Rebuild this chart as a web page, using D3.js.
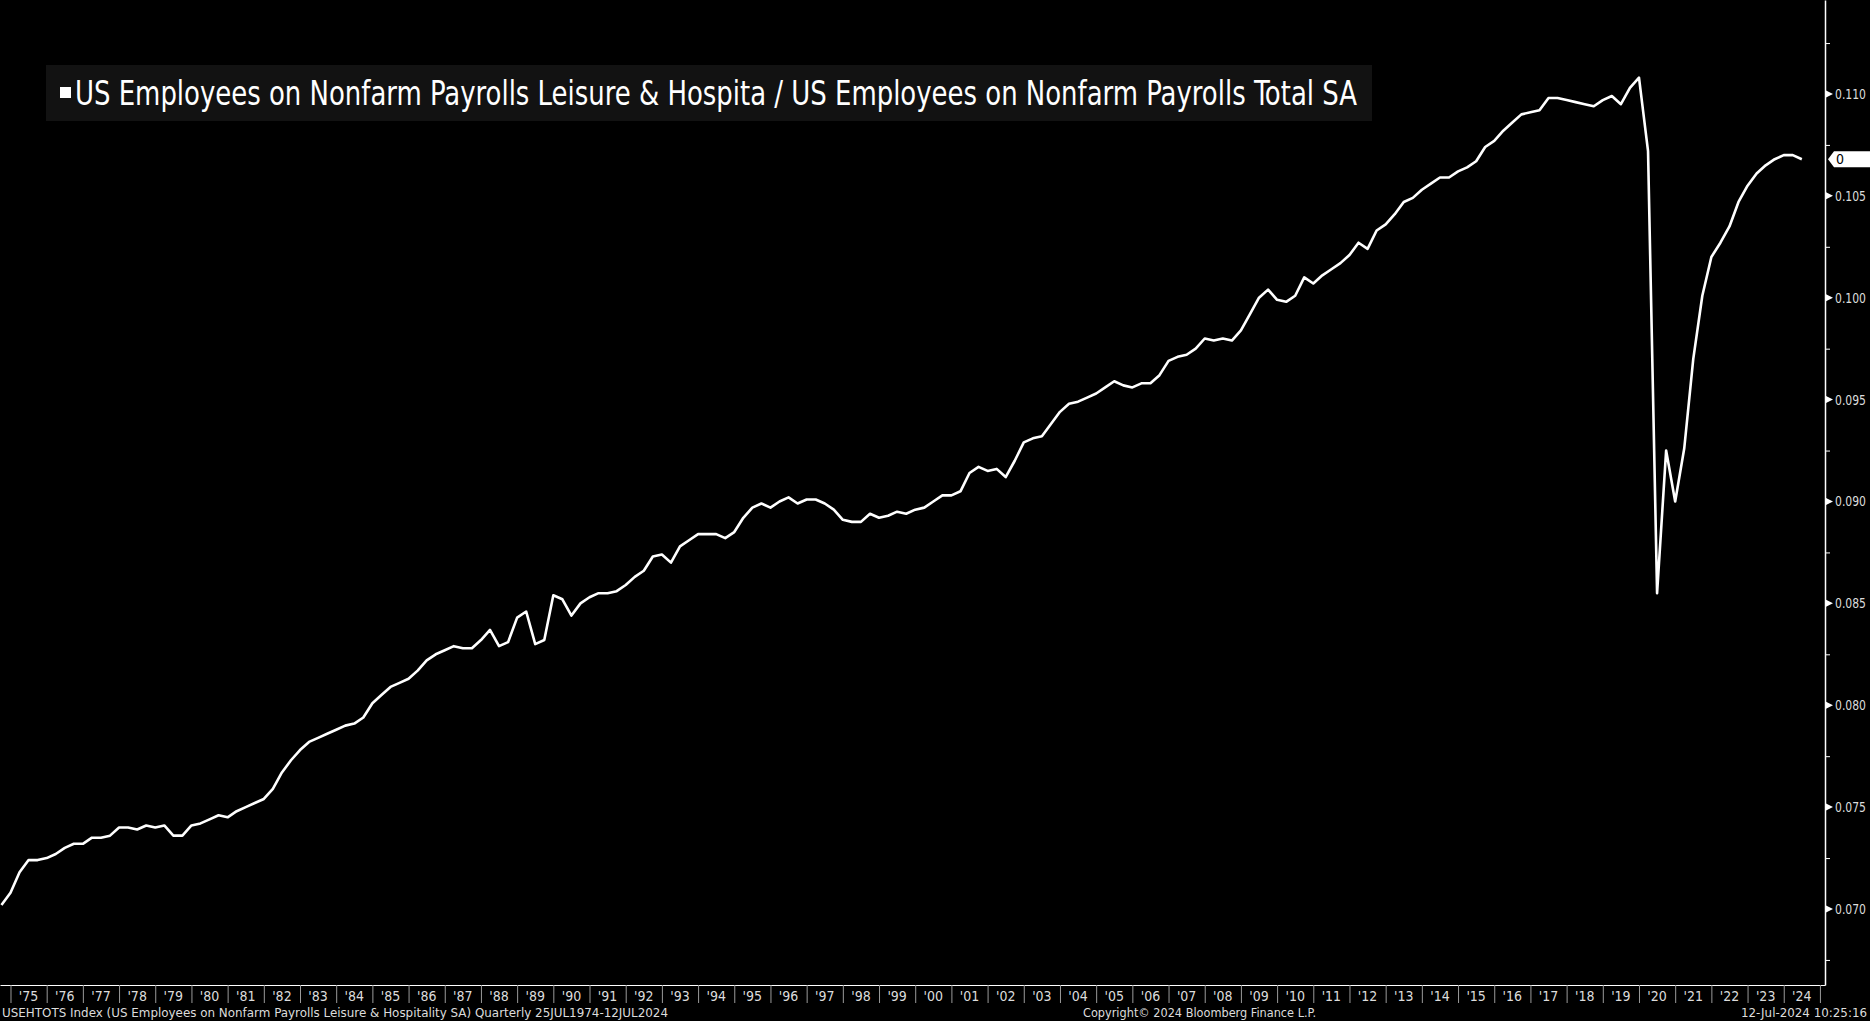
<!DOCTYPE html>
<html>
<head>
<meta charset="utf-8">
<script src="https://cdn.jsdelivr.net/npm/d3@7/dist/d3.min.js"></script>
<style>
    body { margin: 0; background: #000; overflow: hidden; }
    svg text { font-family: "DejaVu Sans Condensed", "Liberation Sans Narrow", "DejaVu Sans", sans-serif; font-stretch: condensed; }
</style>
</head>
<body>
<div id="chart"></div>
<script>
/* *******************************************************
   Data: quarterly ratio, Leisure & Hospitality / Total
   first point = 1974 Q3, one value per quarter
******************************************************* */
const firstQuarter = 1974.75;

const values1970s = [0.0702, 0.0708, 0.0718, 0.0724, 0.0724, 0.0725, 0.0727, 0.0730, 0.0732, 0.0732,
    0.0735, 0.0735, 0.0736, 0.0740, 0.0740, 0.0739, 0.0741, 0.0740, 0.0741, 0.0736,
    0.0736, 0.0741];
const values1980s = [0.0742, 0.0744, 0.0746, 0.0745, 0.0748, 0.0750, 0.0752, 0.0754, 0.0759, 0.0767,
    0.0773, 0.0778, 0.0782, 0.0784, 0.0786, 0.0788, 0.0790, 0.0791, 0.0794, 0.0801,
    0.0805, 0.0809, 0.0811, 0.0813, 0.0817, 0.0822, 0.0825, 0.0827, 0.0829, 0.0828,
    0.0828, 0.0832, 0.0837, 0.0829, 0.0831, 0.0843, 0.0846, 0.0830, 0.0832, 0.0854];
const values1990s = [0.0852, 0.0844, 0.0850, 0.0853, 0.0855, 0.0855, 0.0856, 0.0859, 0.0863, 0.0866,
    0.0873, 0.0874, 0.0870, 0.0878, 0.0881, 0.0884, 0.0884, 0.0884, 0.0882, 0.0885,
    0.0892, 0.0897, 0.0899, 0.0897, 0.0900, 0.0902, 0.0899, 0.0901, 0.0901, 0.0899,
    0.0896, 0.0891, 0.0890, 0.0890, 0.0894, 0.0892, 0.0893, 0.0895, 0.0894, 0.0896];
const values2000s = [0.0897, 0.0900, 0.0903, 0.0903, 0.0905, 0.0914, 0.0917, 0.0915, 0.0916, 0.0912,
    0.0920, 0.0929, 0.0931, 0.0932, 0.0938, 0.0944, 0.0948, 0.0949, 0.0951, 0.0953,
    0.0956, 0.0959, 0.0957, 0.0956, 0.0958, 0.0958, 0.0962, 0.0969, 0.0971, 0.0972,
    0.0975, 0.0980, 0.0979, 0.0980, 0.0979, 0.0984, 0.0992, 0.1000, 0.1004, 0.0999];
const values2010s = [0.0998, 0.1001, 0.1010, 0.1007, 0.1011, 0.1014, 0.1017, 0.1021, 0.1027, 0.1024,
    0.1033, 0.1036, 0.1041, 0.1047, 0.1049, 0.1053, 0.1056, 0.1059, 0.1059, 0.1062,
    0.1064, 0.1067, 0.1074, 0.1077, 0.1082, 0.1086, 0.1090, 0.1091, 0.1092, 0.1098,
    0.1098, 0.1097, 0.1096, 0.1095, 0.1094, 0.1097, 0.1099, 0.1095, 0.1103, 0.1108];
const values2020s = [0.1072, 0.0855, 0.0925, 0.0900, 0.0926, 0.0970, 0.1001, 0.1020, 0.1027, 0.1035,
    0.1047, 0.1055, 0.1061, 0.1065, 0.1068, 0.1070, 0.1070, 0.1068];

// axis ticks
const yTickValues = [0.070, 0.075, 0.080, 0.085, 0.090, 0.095, 0.100, 0.105, 0.110];
const yMinorValues = [0.0675, 0.0725, 0.0775, 0.0825, 0.0875, 0.0925, 0.0975, 0.1025, 0.1075, 0.1125];
const yearTicks = d3.range(1975, 2025);
const lastValueLabel = "0";

// texts
const legendText = "US Employees on Nonfarm Payrolls Leisure & Hospita / US Employees on Nonfarm Payrolls Total SA";
const footerLeft = "USEHTOTS Index (US Employees on Nonfarm Payrolls Leisure & Hospitality SA)  Quarterly 25JUL1974-12JUL2024";
const footerMid = "Copyright\u00A9 2024 Bloomberg Finance L.P.";
const footerRight = "12-Jul-2024 10:25:16";

/* *******************************************************
   Svg + scales
******************************************************* */
let width = 1870;
let height = 1021;
let plot = { left: 0, right: 1825, top: 0, bottom: 985 };

let svg = d3.select("#chart").append("svg")
    .attr("width", width).attr("height", height)
    .style("display", "block")
    .style("background", "#000");

let data = [].concat(values1970s, values1980s, values1990s, values2000s, values2010s, values2020s)
    .map((v, i) => ({ t: firstQuarter + i * 0.25, v: v }));

var xScale = d3.scaleLinear()
    .domain([1974.71, 2025.14])
    .range([plot.left, plot.right]);

var yScale = d3.scaleLinear()
    .domain([0.06627, 0.114613])
    .range([plot.bottom, plot.top]);

/* *******************************************************
   Axes
******************************************************* */
// right axis: labels
let yAxisG = svg.append("g")
    .attr("transform", `translate(${plot.right}, 0)`)
    .call(d3.axisRight(yScale).tickValues(yTickValues).tickSize(0).tickSizeOuter(0)
        .tickPadding(10).tickFormat(d3.format(".3f")));
yAxisG.select(".domain").attr("stroke", "#fff").attr("stroke-width", 1.5);
yAxisG.selectAll("text")
    .attr("fill", "#dcdcdc")
    .attr("textLength", 31)
    .attr("lengthAdjust", "spacingAndGlyphs")
    .style("font-size", "14px");

// triangle markers on major ticks
yAxisG.selectAll(".tri")
    .data(yTickValues)
    .enter()
    .append("path")
    .attr("class", "tri")
    .attr("d", d => `M1,${yScale(d) - 3.5}L8,${yScale(d)}L1,${yScale(d) + 3.5}Z`)
    .attr("fill", "#fff");

// minor ticks
let yMinorG = svg.append("g")
    .attr("transform", `translate(${plot.right}, 0)`)
    .call(d3.axisRight(yScale).tickValues(yMinorValues).tickSize(5).tickSizeOuter(0).tickFormat(""));
yMinorG.select(".domain").remove();
yMinorG.selectAll("line").attr("stroke", "#fff");

// bottom axis: year separators
let xAxisG = svg.append("g")
    .attr("transform", `translate(0, ${plot.bottom})`)
    .call(d3.axisBottom(xScale).tickValues(d3.range(1975, 2026)).tickSize(18).tickSizeOuter(0).tickFormat(""));
xAxisG.select(".domain").attr("stroke", "#fff").attr("stroke-width", 1);
xAxisG.selectAll(".tick line").attr("stroke", "#9a9a9a");

// year labels between separators
svg.append("g").selectAll("text")
    .data(yearTicks)
    .enter()
    .append("text")
    .attr("x", d => xScale(d + 0.5))
    .attr("y", plot.bottom + 16)
    .attr("text-anchor", "middle")
    .attr("fill", "#dcdcdc")
    .style("font-size", "14px")
    .text(d => "'" + String(d).slice(2));

/* *******************************************************
   Line
******************************************************* */
var line = d3.line()
    .x(d => xScale(d.t))
    .y(d => yScale(d.v));

svg.append("path")
    .datum(data)
    .attr("d", line)
    .attr("fill", "none")
    .attr("stroke", "#fff")
    .attr("stroke-width", 2.6)
    .attr("stroke-linejoin", "round");

// last value tag
let last = data[data.length - 1];
let tagY = yScale(last.v);
svg.append("path")
    .attr("d", `M${plot.right + 3},${tagY}L${plot.right + 9},${tagY - 8}L${width},${tagY - 8}L${width},${tagY + 8}L${plot.right + 9},${tagY + 8}Z`)
    .attr("fill", "#fff");
svg.append("text")
    .attr("x", plot.right + 11)
    .attr("y", tagY + 5)
    .attr("fill", "#000")
    .style("font-size", "14px")
    .text(lastValueLabel);

/* *******************************************************
   Legend
******************************************************* */
svg.append("rect")
    .attr("x", 46).attr("y", 65)
    .attr("width", 1326).attr("height", 56)
    .attr("fill", "#121212");
svg.append("rect")
    .attr("x", 60).attr("y", 87)
    .attr("width", 11).attr("height", 11)
    .attr("fill", "#fff");
svg.append("text")
    .attr("x", 75).attr("y", 105)
    .attr("fill", "#fff")
    .attr("textLength", 1282)
    .attr("lengthAdjust", "spacingAndGlyphs")
    .style("font-size", "34px")
    .text(legendText);

/* *******************************************************
   Footer
******************************************************* */
svg.append("text")
    .attr("x", 2).attr("y", 1017)
    .attr("fill", "#dcdcdc")
    .attr("textLength", 666)
    .attr("lengthAdjust", "spacingAndGlyphs")
    .style("font-size", "13px")
    .text(footerLeft);

svg.append("text")
    .attr("x", 1083).attr("y", 1017)
    .attr("fill", "#dcdcdc")
    .attr("textLength", 233)
    .attr("lengthAdjust", "spacingAndGlyphs")
    .style("font-size", "13px")
    .text(footerMid);

svg.append("text")
    .attr("x", 1741).attr("y", 1017)
    .attr("fill", "#dcdcdc")
    .attr("textLength", 126)
    .attr("lengthAdjust", "spacingAndGlyphs")
    .style("font-size", "13px")
    .text(footerRight);
</script>
</body>
</html>
